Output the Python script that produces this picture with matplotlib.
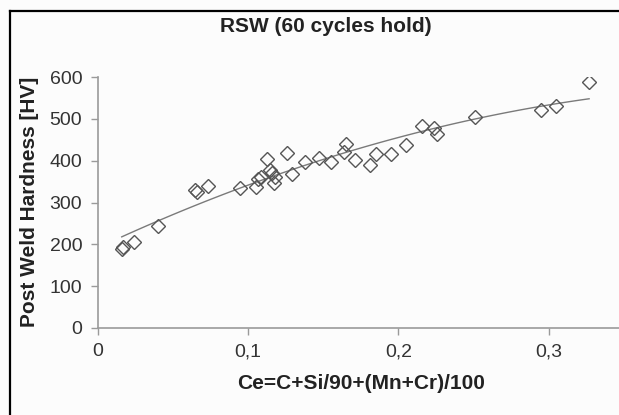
import numpy as np
import matplotlib.pyplot as plt
from matplotlib.lines import Line2D

# Ce values and post weld hardness
ce = [0.0161, 0.0168, 0.0245, 0.0405, 0.065, 0.066, 0.0734, 0.0944,
      0.1055, 0.107, 0.109, 0.113, 0.115, 0.116, 0.117, 0.118, 0.126,
      0.129, 0.138, 0.147, 0.155, 0.164, 0.165, 0.171, 0.181, 0.185,
      0.195, 0.205, 0.216, 0.2236, 0.226, 0.251, 0.2946, 0.305, 0.3268]
hardness = [190, 194, 206, 244, 331, 324, 339, 335,
            337, 357, 361, 404, 377, 370, 346, 361, 418,
            369, 397, 407, 397, 421, 441, 401, 389, 417,
            417, 437, 484, 477, 463, 504, 520, 531, 588]

x_ticks = [0, 0.1, 0.2, 0.3]
x_tick_labels = ["0", "0,1", "0,2", "0,3"]
y_ticks = [0, 100, 200, 300, 400, 500, 600]

plt.rcParams['font.family'] = ['Liberation Sans', 'DejaVu Sans']

W, H = 619, 415
fig = plt.figure(figsize=(W / 100, H / 100), dpi=100, facecolor='#fcfcfc')

# axes placed in pixel terms: x=0 at 97px, y=0 at 328px, y=600 at 77px
left, right = 97.5, 624.0
bottom, top = 328.0, 77.0
ax = fig.add_axes([left / W, 1 - bottom / H, (right - left) / W, (bottom - top) / H])
ax.set_facecolor('#fcfcfc')

ax.plot(ce, hardness, linestyle='none', marker='D', markersize=7.6,
        markerfacecolor='none', markeredgecolor='#555555', markeredgewidth=1.0,
        zorder=3)

# quadratic trend line fitted to the points
coef = np.polyfit(ce, hardness, 2)
xs = np.linspace(min(ce), max(ce), 100)
ax.plot(xs, np.polyval(coef, xs), color='#7a7a7a', linewidth=1.0, zorder=2)

ax.set_xlim(0, 0.35)
ax.set_ylim(0, 600)
ax.set_xticks(x_ticks, x_tick_labels)
ax.set_yticks(y_ticks)

for s in ['top', 'right']:
    ax.spines[s].set_visible(False)
for s in ['left', 'bottom']:
    ax.spines[s].set_color('#9a9a9a')
    ax.spines[s].set_linewidth(1.2)
ax.tick_params(axis='both', colors='#9a9a9a', length=5, width=1.0,
               labelsize=14, labelcolor='#333333', pad=6)

ax.set_xlabel("Ce=C+Si/90+(Mn+Cr)/100", fontsize=15, fontweight='bold',
              color='#222222', labelpad=10)
fig.text(30 / W, 1 - 202 / H, "Post Weld Hardness [HV]", rotation=90,
         ha='center', va='center', fontsize=15, fontweight='bold', color='#222222')
fig.text(326 / W, 1 - 27 / H, "RSW (60 cycles hold)", ha='center', va='center',
         fontsize=15, fontweight='bold', color='#222222')

# outer frame (only left and top edges are visible in the crop)
fig.add_artist(Line2D([10 / W, 10 / W], [-0.05, 1 - 11 / H], transform=fig.transFigure,
                      color='black', linewidth=1.6))
fig.add_artist(Line2D([10 / W, 1.05], [1 - 11 / H, 1 - 11 / H], transform=fig.transFigure,
                      color='black', linewidth=1.6))

fig.savefig("out.png", dpi=100, facecolor=fig.get_facecolor())
